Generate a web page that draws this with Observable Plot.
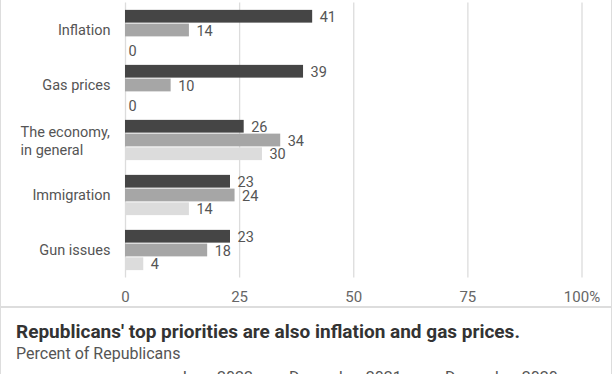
<!DOCTYPE html>
<html><head><meta charset="utf-8">
<script src="https://cdn.jsdelivr.net/npm/d3@7"></script>
<script src="https://cdn.jsdelivr.net/npm/@observablehq/plot@0.6"></script>
<style>
body{margin:0;background:#fff;font-family:Roboto,sans-serif;}
#wrap{width:610px;border-left:1px solid #ddd;border-right:1px solid #ddd;}
#chart{height:306px;border-bottom:1px solid #ddd;}
#chart svg{display:block;}
#cap{border-top:1px solid #ddd;padding:12px 0 0 15px;}
#title{font-weight:700;font-size:19px;line-height:24px;color:#333;white-space:nowrap;}
#sub{font-size:16px;line-height:20px;color:#555;}
#legend{font-size:16px;line-height:20px;color:#555;margin-left:144px;margin-top:4px;white-space:nowrap;}
#legend .item{display:inline-block;}
#legend .sw{display:inline-block;width:12px;height:12px;margin-right:6px;vertical-align:-8px;}
</style>
</head><body>
<div id="wrap">
  <div id="chart"></div>
  <div id="cap">
    <div id="title">Republicans' top priorities are also inflation and gas prices.</div>
    <div id="sub">Percent of Republicans</div>
    <div id="legend"></div>
  </div>
</div>
<script>
const categories = ["Inflation", "Gas prices", "The economy,\nin general", "Immigration", "Gun issues"];
const seriesNames = ["June 2022", "December 2021", "December 2020"];
const june2022 = [41, 39, 26, 23, 23];
const dec2021 = [14, 10, 34, 24, 18];
const dec2020 = [0, 0, 30, 14, 4];
const xTicks = [0, 25, 50, 75, 100];
const colors = ["#454545", "#a6a6a6", "#dcdcdc"];

const seriesValues = [june2022, dec2021, dec2020];
const keys = [];
categories.forEach((c, i) => {
  if (i > 0) keys.push("gap" + i);
  seriesNames.forEach(s => keys.push(c + "|" + s));
});
const rows = categories.flatMap((c, i) => seriesNames.map((s, j) => ({
  category: c, series: s, key: c + "|" + s, value: seriesValues[j][i]
})));
const midKey = c => c + "|" + seriesNames[1];
const singleCats = categories.filter(c => !c.includes("\n"));
const multiCats = categories.filter(c => c.includes("\n"));

const chart = Plot.plot({
  width: 610, height: 306,
  marginLeft: 124, marginRight: 29.5, marginTop: 2.5, marginBottom: 28.5,
  style: {fontFamily: "Roboto, sans-serif", fontSize: "15px", color: "#666", background: "#fff"},
  x: {domain: [0, 100], ticks: xTicks, tickFormat: d => d === 100 ? "100%" : String(d), tickSize: 0, tickPadding: 13, label: null},
  y: {domain: keys, paddingInner: 0, paddingOuter: 0.5, round: false, axis: null},
  color: {domain: seriesNames, range: colors},
  marks: [
    Plot.ruleX(xTicks, {stroke: "#dcdcdc", strokeWidth: 1.3}),
    Plot.barX(rows, {x: "value", y: "key", fill: "series", insetTop: 0.5, insetBottom: 0.5}),
    Plot.text(rows.filter(d => d.value > 0), {x: "value", y: "key", text: d => String(d.value), textAnchor: "start", dx: 7, dy: 0.5, fill: "#555", fontSize: 14.5}),
    Plot.text(rows.filter(d => d.value === 0), {x: "value", y: "key", text: d => String(d.value), textAnchor: "start", dx: 3, dy: 7, fill: "#555", fontSize: 14.5}),
    Plot.text(singleCats, {x: () => 0, y: midKey, text: c => c, textAnchor: "end", dx: -15, fill: "#555", fontSize: 14.5}),
    Plot.text(multiCats, {x: () => 0, y: midKey, text: c => c, textAnchor: "start", dx: -105, lineHeight: 1.2, fill: "#555", fontSize: 14.5})
  ]
});
document.getElementById("chart").appendChild(chart);

const leg = document.getElementById("legend");
const widths = [111, 156, 140];
seriesNames.forEach((s, i) => {
  const it = document.createElement("span");
  it.className = "item";
  it.style.width = widths[i] + "px";
  const sw = document.createElement("span");
  sw.className = "sw";
  sw.style.background = colors[i];
  it.appendChild(sw);
  it.appendChild(document.createTextNode(s));
  leg.appendChild(it);
});
</script>
</body></html>
